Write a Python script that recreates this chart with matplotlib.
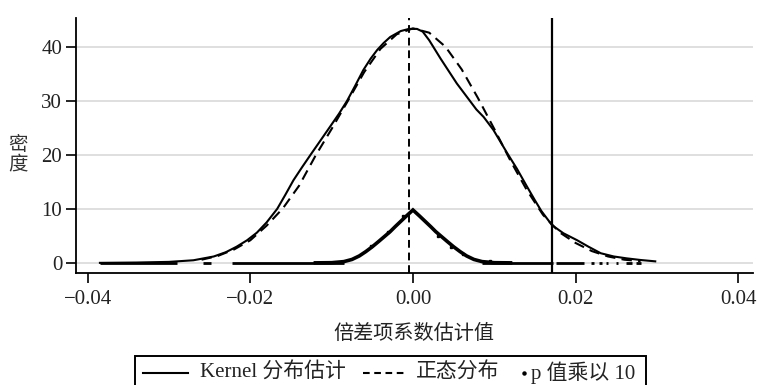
import matplotlib

matplotlib.use("Agg")
import matplotlib.pyplot as plt
from matplotlib.lines import Line2D
from matplotlib.patches import Rectangle
from matplotlib.transforms import IdentityTransform

plt.rcParams["font.family"] = ["Liberation Serif", "Noto Sans CJK SC"]

# kernel density estimate
kern_x = [-0.0385, -0.034, -0.0300, -0.0270, -0.0245, -0.0230, -0.0217, -0.0204,
          -0.0192, -0.0180, -0.0167, -0.0157, -0.0147, -0.0136, -0.0126, -0.0114,
          -0.0102, -0.0091, -0.0081, -0.0071, -0.0061, -0.0052, -0.0044, -0.0036,
          -0.0028, -0.0015, -0.0005, 0.0005, 0.0012, 0.0020, 0.0034, 0.0054,
          0.0068, 0.0078, 0.0087, 0.0099, 0.0116, 0.0128, 0.0140, 0.0150, 0.0158,
          0.0165, 0.0171, 0.0185, 0.0202, 0.0216, 0.0231, 0.0247, 0.0263, 0.0280,
          0.0298]
kern_y = [0.02, 0.08, 0.2, 0.5, 1.2, 2.0, 3.0, 4.2,
          5.6, 7.5, 10.0, 12.6, 15.3, 17.8, 20.0, 22.6,
          25.2, 27.6, 30.0, 32.8, 35.7, 37.8, 39.4, 40.7,
          41.8, 42.9, 43.3, 43.3, 42.8, 41.2, 37.8, 33.2,
          30.4, 28.4, 27.0, 24.6, 20.3, 17.4, 14.2, 11.6, 9.6,
          8.2, 7.0, 5.5, 4.2, 3.0, 1.8, 1.2, 0.85, 0.55,
          0.3]

# normal density
norm_x = [-0.026, -0.024, -0.022, -0.020, -0.018, -0.016, -0.014, -0.012, -0.010,
          -0.008, -0.006, -0.004, -0.002, 0.000, 0.002, 0.004, 0.006, 0.008, 0.010,
          0.012, 0.014, 0.016, 0.018, 0.020, 0.022, 0.024, 0.026, 0.028]
norm_y = [0.6, 1.3, 2.5, 4.2, 6.9, 10.1, 14.3, 19.8, 24.8,
          30.0, 35.3, 39.6, 42.3, 43.4, 42.6, 40.0, 35.8, 30.5, 24.8,
          18.9, 13.5, 8.9, 5.7, 3.7, 2.2, 1.2, 0.6, 0.35]

# p value x 10
p_x = [-0.012, -0.010, -0.0085, -0.0075, -0.0066, -0.0058, -0.005, -0.0042, -0.0035,
       -0.0028, -0.0022, -0.0015, -0.0008, 0.0,
       0.0008, 0.0015, 0.0022, 0.0028, 0.0035, 0.0042, 0.005, 0.0058, 0.0066,
       0.0075, 0.0085, 0.010, 0.012]
p_y = [0.02, 0.05, 0.25, 0.65, 1.3, 2.1, 3.0, 4.0, 4.9,
       5.8, 6.7, 7.7, 8.7, 9.8,
       8.7, 7.7, 6.7, 5.8, 4.9, 4.0, 3.0, 2.1, 1.3,
       0.65, 0.25, 0.05, 0.02]
p_extra_x = [-0.0052, -0.0031, -0.0012, 0.0031, 0.0047, 0.0062, 0.0095]
p_extra_y = [3.2, 5.7, 8.6, 5.0, 3.0, 1.6, 0.35]
zero_start = [-0.0385, -0.0258, -0.0223, 0.0085, 0.0176, 0.0219, 0.0229, 0.0238,
              0.0250, 0.0262, 0.0274]
zero_end = [-0.0290, -0.0248, -0.0085, 0.0172, 0.0210, 0.0223, 0.0232, 0.0240,
            0.0252, 0.0270, 0.0281]

vline_solid = 0.0171
vline_dash = -0.0005
yticks = [0, 10, 20, 30, 40]
xticks = [-0.04, -0.02, 0.00, 0.02, 0.04]
xtick_labels = ["\u22120.04", "\u22120.02", "0.00", "0.02", "0.04"]
legend_labels = ["Kernel 分布估计", "正态分布", "p 值乘以 10"]

fig = plt.figure(figsize=(7.61, 3.85), dpi=100)
ax = fig.add_axes([0.0999, 0.291, 0.889, 0.662])

for y in yticks:
    ax.axhline(y, color="#d9d9d9", lw=1.2, zorder=0)

ax.plot(kern_x, kern_y, color="black", lw=1.5)
ax.plot(norm_x, norm_y, color="black", lw=1.5, ls=(0, (5, 3)))
ax.plot(p_x, p_y, color="black", lw=2.6, solid_joinstyle="miter")
ax.plot(p_extra_x, p_extra_y, "s", color="black", ms=2)
ax.hlines([0] * len(zero_start), zero_start, zero_end, color="black", lw=2.0)
ax.axvline(vline_solid, color="black", lw=1.6)
ax.axvline(vline_dash, color="black", lw=1.4, ls=(0, (4, 2.5)))

ax.set_xlim(-0.04144, 0.04177)
ax.set_ylim(-1.85, 45.3)
ax.set_xticks(xticks)
ax.set_xticklabels(xtick_labels)
ax.set_yticks(yticks)
ax.tick_params(labelsize=15, length=7, width=1.2, color="black", labelcolor="#222222", pad=3)
ax.tick_params(axis="x", pad=5)
for s in ["top", "right"]:
    ax.spines[s].set_visible(False)
for s in ["left", "bottom"]:
    ax.spines[s].set_linewidth(1.3)

ax.set_xlabel("倍差项系数估计值", fontsize=14.5, labelpad=12, color="#222222")
fig.text(0.024, 0.597, "密\n度", fontsize=14, ha="center", va="center",
         linespacing=1.1, color="#333333")

# legend box below the axes, built by hand so the dot sits next to its text
px = IdentityTransform()
fig.canvas.draw()
r = fig.canvas.get_renderer()
yc = 12  # legend row centre, pixels from the bottom edge
fs = 15


def put_text(x0, s):
    t = fig.text(x0, yc, s, transform=px, fontsize=fs, va="center", ha="left",
                 color="#222222")
    return t.get_window_extent(r).x1


x = 143
fig.add_artist(Line2D([x, x + 45], [yc, yc], transform=px, color="black", lw=1.5))
e1 = put_text(x + 57, legend_labels[0])
d0 = e1 + 17
fig.add_artist(Line2D([d0, d0 + 42], [yc, yc], transform=px, color="black", lw=1.5,
                      ls=(0, (3.2, 2.2))))
e2 = put_text(d0 + 53, legend_labels[1])
dot = e2 + 25
fig.add_artist(Line2D([dot], [yc], transform=px, color="black", marker="o", ms=2.2, lw=0))
e3 = put_text(dot + 7, legend_labels[2])
fig.add_artist(Rectangle((135, yc - 17), e3 + 10 - 135, 34, transform=px,
                         fill=False, edgecolor="black", lw=1.4))

fig.savefig("out.png", dpi=100)
